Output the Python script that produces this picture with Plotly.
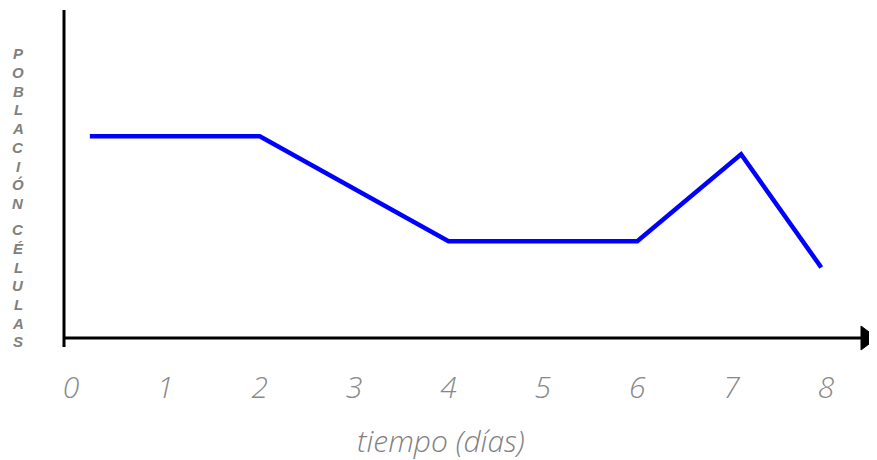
import plotly.graph_objects as go

# data
dias = [0.2, 2.0, 4.0, 6.0, 7.1, 7.95]
poblacion = [6.15, 6.15, 2.95, 2.95, 5.6, 2.15]
tick_vals = [0, 1, 2, 3, 4, 5, 6, 7, 8]
tick_text = ["0", "1", "2", "3", "4", "5", "6", "7", "8"]
x_title = "tiempo (días)"
y_word1 = "POBLACIÓN"
y_word2 = "CÉLULAS"

OFF = 8  # page body margin
W, H = 877 - OFF, 460 - OFF
L, R, T = 64 - OFF, 0, 10 - OFF
B = H - (338 - OFF)
pw, ph = W - L - R, H - T - B
px_per_unit = 94.375
x0 = -(71 - 64) / px_per_unit
x1 = x0 + pw / px_per_unit


def px(xp):
    return (xp - 64) / pw


def py(yp):
    return (338 - yp) / ph


fig = go.Figure()
fig.add_trace(go.Scatter(x=dias, y=poblacion, mode="lines",
                         line=dict(color="#0000ff", width=4.5),
                         hoverinfo="skip", showlegend=False))

shapes = [
    dict(type="line", xref="paper", yref="paper", x0=0, x1=px(862), y0=0, y1=0,
         line=dict(color="black", width=3)),
    dict(type="line", xref="paper", yref="paper", x0=0, x1=0, y0=py(347), y1=1,
         line=dict(color="black", width=3)),
    dict(type="path", xref="paper", yref="paper",
         path=f"M {px(861)} {py(326)} L {px(877)} {py(338)} L {px(861)} {py(350)} Z",
         fillcolor="black", line=dict(color="black", width=1)),
]

lab_font = dict(family="Arial, Liberation Sans", size=15, color="#808080",
                weight="bold", style="italic")
annotations = []
for i, ch in enumerate(y_word1):
    annotations.append(dict(text=ch, xref="paper", yref="paper", x=px(18), y=py(53.5 + i * 18.75),
                            showarrow=False, xanchor="center", yanchor="middle", font=lab_font))
for j, ch in enumerate(y_word2):
    annotations.append(dict(text=ch, xref="paper", yref="paper", x=px(18), y=py(230 + j * 18.6),
                            showarrow=False, xanchor="center", yanchor="middle", font=lab_font))
annotations.append(dict(text=x_title, xref="paper", yref="paper", x=px(441), y=py(440),
                        showarrow=False, xanchor="center", yanchor="middle", borderpad=0,
                        font=dict(family="Open Sans, Verdana, sans-serif", size=30, color="#7f7f7f",
                                  style="italic", weight=300)))

fig.update_layout(
    width=W, height=H,
    margin=dict(l=L, r=R, t=T, b=B, pad=0),
    paper_bgcolor="white", plot_bgcolor="white",
    shapes=shapes, annotations=annotations,
    xaxis=dict(range=[x0, x1], tickvals=tick_vals, ticktext=tick_text,
               showgrid=False, zeroline=False, showline=False, ticks="",
               ticklabelstandoff=29,
               tickfont=dict(family="Open Sans, Verdana, sans-serif", size=30, color="#888888",
                             style="italic", weight=300),
               fixedrange=True),
    yaxis=dict(range=[0, 10], showgrid=False, zeroline=False, showline=False,
               showticklabels=False, ticks="", fixedrange=True),
)

fig.write_html("out.html")
